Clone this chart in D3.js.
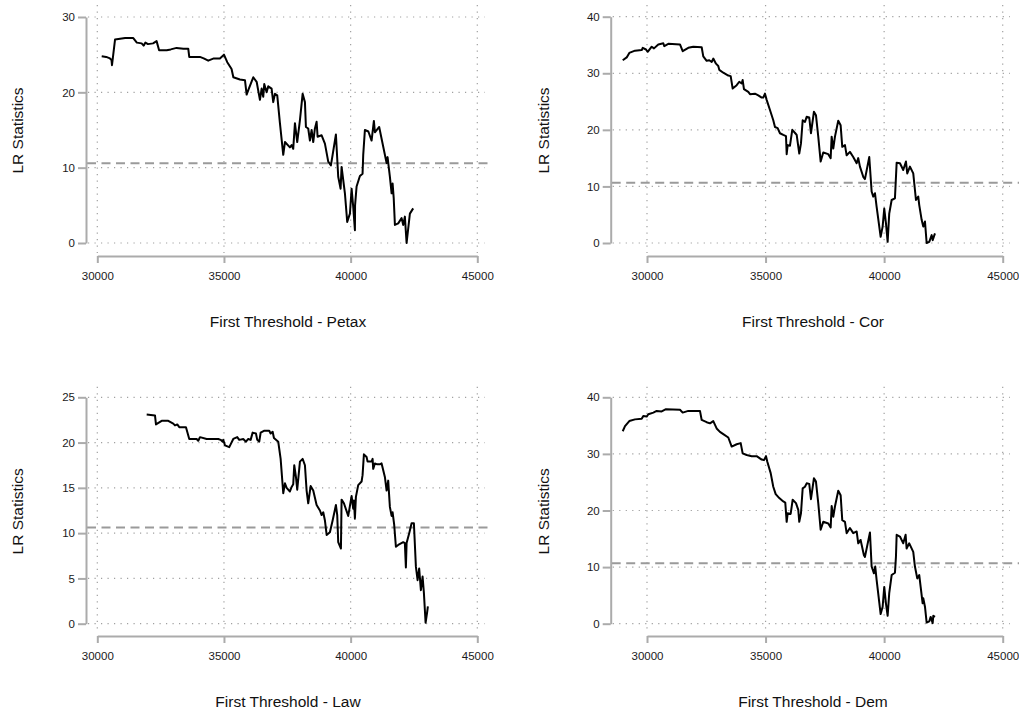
<!DOCTYPE html>
<html>
<head>
<meta charset="utf-8">
<script src="https://cdn.jsdelivr.net/npm/d3@7"></script>
<style>
  html, body { margin: 0; padding: 0; background: #fff; }
  svg { display: block; font-family: "Liberation Sans", Arial, Helvetica, sans-serif; }
</style>
</head>
<body>
<svg id="chart" width="1019" height="710"></svg>
<script>
// ---------------- DATA ----------------
const xTicks = [30000, 35000, 40000, 45000];
const yTicksPetax = [0, 10, 20, 30];
const yTicksCor = [0, 10, 20, 30, 40];
const yTicksLaw = [0, 5, 10, 15, 20, 25];
const yTicksDem = [0, 10, 20, 30, 40];
const panelTitles = ["First Threshold - Petax", "First Threshold - Cor", "First Threshold - Law", "First Threshold - Dem"];
const yTitle = "LR Statistics";
const criticalValues = [10.6, 10.65, 10.63, 10.7];

const petax = [[30174,24.8],[30350,24.7],[30500,24.5],[30560,24.3],[30580,23.6],[30700,27.0],[30900,27.1],[31100,27.2],[31420,27.2],[31560,26.6],[31750,26.5],[31830,26.2],[31900,26.6],[32000,26.4],[32200,26.5],[32340,26.8],[32440,25.6],[32740,25.6],[32900,25.7],[33130,25.9],[33400,25.8],[33590,25.8],[33630,24.7],[34050,24.7],[34200,24.5],[34380,24.2],[34600,24.5],[34840,24.5],[35000,25.0],[35130,24.0],[35300,23.1],[35370,22.0],[35630,21.7],[35830,21.6],[35895,19.7],[35960,20.3],[36156,22.0],[36290,21.4],[36420,19.0],[36487,20.5],[36550,19.4],[36590,21.1],[36684,20.0],[36748,20.8],[36880,20.5],[36945,18.7],[37012,19.8],[37103,19.6],[37209,15.9],[37340,11.7],[37407,13.4],[37604,12.7],[37671,13.0],[37734,12.5],[37801,15.9],[37892,13.4],[37999,16.3],[38105,19.8],[38196,18.7],[38235,15.4],[38326,15.2],[38393,13.6],[38460,15.0],[38524,13.4],[38590,15.2],[38657,16.1],[38696,14.1],[38855,14.3],[38985,13.2],[39116,10.8],[39222,10.3],[39419,14.4],[39510,8.8],[39604,7.2],[39643,10.1],[39774,6.6],[39865,2.8],[39972,3.9],[40039,7.2],[40102,4.8],[40169,1.7],[40175,5.0],[40235,7.5],[40366,8.9],[40471,9.2],[40497,11.7],[40563,15.0],[40700,14.8],[40827,13.6],[40918,16.2],[40958,14.7],[41127,15.4],[41285,12.8],[41420,10.6],[41458,11.4],[41549,8.8],[41617,6.6],[41657,7.9],[41700,6.0],[41748,2.4],[41878,2.6],[42012,3.3],[42076,2.4],[42141,3.5],[42209,0.0],[42339,3.9],[42469,4.6]];

const cor = [[28976,32.3],[29144,32.8],[29254,33.6],[29494,34.0],[29777,34.1],[29819,34.5],[29958,34.2],[30030,33.8],[30198,34.7],[30295,34.4],[30476,35.1],[30687,35.3],[30729,34.8],[30898,35.2],[31391,35.1],[31505,33.9],[31741,34.5],[31952,34.7],[32306,34.6],[32373,33.0],[32516,32.2],[32627,32.3],[32728,32.0],[32795,32.6],[32909,31.7],[33006,31.3],[33048,30.6],[33217,30.1],[33428,29.6],[33529,29.5],[33613,27.3],[33782,27.9],[33891,28.5],[33992,28.2],[34034,28.8],[34089,27.2],[34271,26.7],[34343,26.3],[34553,26.4],[34693,26.1],[34836,25.7],[34903,25.7],[34975,26.4],[35046,25.3],[35186,23.5],[35325,21.7],[35397,20.5],[35510,20.3],[35607,19.4],[35747,19.1],[35861,18.9],[35890,15.7],[35932,17.3],[36029,17.2],[36126,20.0],[36253,19.4],[36312,19.1],[36421,15.8],[36493,17.6],[36565,21.7],[36662,21.4],[36733,22.3],[36842,22.2],[36914,19.4],[37040,23.2],[37125,22.6],[37222,18.8],[37323,14.4],[37433,16.0],[37644,15.7],[37745,15.0],[37787,18.8],[37855,16.7],[37926,18.8],[38065,21.6],[38166,20.8],[38234,17.0],[38348,17.3],[38419,15.5],[38558,16.1],[38697,15.2],[38841,14.1],[38908,15.0],[38980,13.5],[39119,11.7],[39191,11.3],[39373,15.2],[39473,9.1],[39541,8.2],[39613,8.8],[39684,6.4],[39853,1.1],[39937,2.9],[40005,6.1],[40076,3.5],[40148,0.2],[40215,5.2],[40317,7.6],[40456,7.9],[40528,14.2],[40667,14.1],[40806,12.9],[40920,14.4],[40975,12.3],[41089,13.5],[41228,12.3],[41342,7.6],[41439,8.2],[41481,6.7],[41582,4.1],[41650,2.9],[41722,3.8],[41793,0.0],[41903,0.2],[42005,1.4],[42047,0.5],[42144,1.7]];

const law = [[31949,23.1],[32277,23.0],[32316,22.0],[32541,22.4],[32802,22.4],[32999,22.1],[33066,21.9],[33157,22.0],[33236,21.7],[33500,21.7],[33630,20.4],[33922,20.4],[33986,20.2],[34053,20.6],[34317,20.4],[34775,20.4],[34869,20.3],[34948,20.1],[34972,20.3],[35039,19.7],[35209,19.5],[35367,20.4],[35524,20.6],[35603,20.3],[35761,20.4],[35868,20.1],[35959,20.4],[36053,20.3],[36132,21.1],[36262,21.0],[36314,20.3],[36393,20.1],[36448,21.1],[36578,21.3],[36787,21.3],[36842,21.0],[36921,21.2],[36973,20.5],[37142,20.1],[37237,18.2],[37340,14.4],[37407,15.5],[37474,15.0],[37604,14.6],[37671,15.1],[37734,15.4],[37774,17.5],[37841,16.2],[37892,14.8],[37999,17.9],[38105,18.2],[38196,17.5],[38262,14.7],[38326,13.3],[38421,15.2],[38524,14.7],[38657,13.1],[38788,12.5],[38855,12.0],[38919,12.3],[38985,11.4],[39053,9.8],[39182,10.1],[39289,11.4],[39419,13.1],[39471,12.0],[39510,9.0],[39617,8.3],[39643,13.7],[39735,13.3],[39905,11.9],[40039,14.1],[40102,12.7],[40129,13.6],[40169,11.6],[40208,14.0],[40299,15.3],[40433,15.7],[40471,16.4],[40524,18.7],[40630,18.4],[40669,17.9],[40827,17.9],[40867,18.2],[40891,17.1],[40958,17.7],[41049,17.6],[41155,17.6],[41222,17.7],[41352,16.2],[41420,14.7],[41483,15.8],[41549,12.9],[41617,11.9],[41657,12.3],[41720,10.9],[41787,8.5],[41878,8.7],[42076,9.0],[42141,8.9],[42181,6.2],[42209,8.9],[42312,10.0],[42406,11.1],[42497,11.1],[42576,6.3],[42643,4.8],[42706,6.1],[42773,3.7],[42840,5.2],[42892,3.4],[42959,0.1],[43022,1.3],[43049,1.9]];

const dem = [[28976,34.0],[29073,34.9],[29254,35.8],[29494,36.1],[29777,36.2],[29844,36.7],[29986,36.6],[30056,37.0],[30267,37.3],[30408,37.6],[30619,37.5],[30800,37.9],[31391,37.8],[31505,37.3],[31741,37.6],[32234,37.6],[32306,36.0],[32516,35.6],[32656,35.4],[32795,35.8],[32937,34.5],[33076,33.9],[33217,33.5],[33428,32.9],[33571,31.3],[33782,31.7],[33951,31.9],[34034,30.1],[34203,29.8],[34414,29.6],[34625,29.6],[34836,29.0],[34933,28.9],[35018,29.6],[35074,28.6],[35216,26.6],[35325,24.2],[35427,22.9],[35578,22.2],[35747,21.6],[35831,21.4],[35890,18.0],[35932,19.5],[36058,19.4],[36143,21.9],[36282,21.3],[36379,20.1],[36421,18.0],[36493,19.5],[36565,23.9],[36662,24.2],[36733,24.8],[36842,24.7],[36914,22.0],[37040,25.7],[37125,25.1],[37222,21.3],[37323,16.6],[37433,18.0],[37644,17.7],[37745,17.0],[37787,20.8],[37855,18.9],[37926,20.7],[38065,23.5],[38166,22.7],[38234,18.3],[38348,18.0],[38419,16.0],[38558,16.9],[38697,16.0],[38841,16.3],[38908,14.2],[39008,14.8],[39148,12.1],[39191,11.8],[39402,16.1],[39473,10.1],[39570,8.9],[39625,10.1],[39684,7.7],[39853,1.7],[39937,3.0],[40005,6.5],[40076,3.6],[40148,1.4],[40215,5.4],[40317,8.6],[40456,9.0],[40498,11.8],[40528,15.7],[40667,15.4],[40806,14.2],[40906,15.7],[40948,13.3],[41059,14.2],[41228,12.7],[41299,10.1],[41397,8.0],[41481,8.6],[41540,6.5],[41624,3.6],[41650,4.5],[41722,3.0],[41793,0.2],[41903,0.4],[41962,1.2],[42047,0.1],[42073,1.4],[42144,1.2]];

// ---------------- LAYOUT ----------------
const panels = [
  { data: petax, yTicks: yTicksPetax, title: panelTitles[0], crit: criticalValues[0],
    axisX: 86, xr: [97.3, 477.3], yr: [243, 17], axisY: 256, gridTop: 5, gridBot: 253, gridRight: 485, dashRight: 490, titleX: 288, titleY: 327, yTitleX: 18 },
  { data: cor, yTicks: yTicksCor, title: panelTitles[1], crit: criticalValues[1],
    axisX: 610.7, xr: [647, 1002.7], yr: [243, 16.7], axisY: 256, gridTop: 5, gridBot: 253, gridRight: 1010, dashRight: 1019, titleX: 813, titleY: 327, yTitleX: 544 },
  { data: law, yTicks: yTicksLaw, title: panelTitles[2], crit: criticalValues[2],
    axisX: 86, xr: [97.3, 477.3], yr: [623.7, 397.3], axisY: 636, gridTop: 386.7, gridBot: 633, gridRight: 485, dashRight: 490, titleX: 288, titleY: 707, yTitleX: 18 },
  { data: dem, yTicks: yTicksDem, title: panelTitles[3], crit: criticalValues[3],
    axisX: 610.7, xr: [647, 1002.7], yr: [623.7, 397.3], axisY: 636, gridTop: 386.7, gridBot: 633, gridRight: 1010, dashRight: 1019, titleX: 813, titleY: 707, yTitleX: 544 }
];

const svg = d3.select("#chart");
const axisColor = "#ababab";
const gridColor = "#a0a0a0";

panels.forEach(p => {
  const yMax = p.yTicks[p.yTicks.length - 1];
  const x = d3.scaleLinear().domain([xTicks[0], xTicks[xTicks.length - 1]]).range(p.xr);
  const y = d3.scaleLinear().domain([0, yMax]).range(p.yr);
  const g = svg.append("g");

  // horizontal dotted grid
  g.append("g").selectAll("line").data(p.yTicks).join("line")
    .attr("x1", p.axisX + 2).attr("x2", p.gridRight)
    .attr("y1", d => y(d)).attr("y2", d => y(d))
    .attr("stroke", gridColor).attr("stroke-width", 1.2)
    .attr("stroke-dasharray", "1.2,5.3");

  // vertical dotted grid
  g.append("g").selectAll("line").data(xTicks).join("line")
    .attr("x1", d => x(d)).attr("x2", d => x(d))
    .attr("y1", p.gridTop).attr("y2", p.gridBot)
    .attr("stroke", gridColor).attr("stroke-width", 1.2)
    .attr("stroke-dasharray", "1.2,5.3");

  // critical value dashed line
  g.append("line")
    .attr("x1", p.axisX + 1).attr("x2", p.dashRight)
    .attr("y1", y(p.crit)).attr("y2", y(p.crit))
    .attr("stroke", "#9a9a9a").attr("stroke-width", 2)
    .attr("stroke-dasharray", "9,5.5");

  // y axis
  const ya = g.append("g").attr("transform", `translate(${p.axisX},0)`)
    .call(d3.axisLeft(y).tickValues(p.yTicks).tickSize(8).tickSizeOuter(0).tickPadding(3).tickFormat(d3.format("d")));
  // x axis
  const xa = g.append("g").attr("transform", `translate(0,${p.axisY})`)
    .call(d3.axisBottom(x).tickValues(xTicks).tickSize(7).tickSizeOuter(0).tickPadding(9).tickFormat(d3.format("d")));
  [ya, xa].forEach(a => {
    a.select(".domain").attr("stroke", axisColor).attr("stroke-width", 2);
    a.selectAll(".tick line").attr("stroke", axisColor).attr("stroke-width", 2);
    a.selectAll(".tick text").attr("fill", "#1a1a1a").style("font-size", "11.5px")
      .style("font-family", "'Liberation Sans', Arial, sans-serif");
  });

  // data line
  g.append("path").datum(p.data)
    .attr("fill", "none").attr("stroke", "#000").attr("stroke-width", 2)
    .attr("stroke-linejoin", "round")
    .attr("d", d3.line().x(d => x(d[0])).y(d => y(d[1])));

  // titles
  g.append("text").attr("x", p.titleX).attr("y", p.titleY)
    .attr("text-anchor", "middle").attr("fill", "#111").style("font-size", "15.5px")
    .text(p.title);
  const yc = (p.gridTop + p.axisY) / 2;
  g.append("text").attr("transform", `translate(${p.yTitleX},${yc}) rotate(-90)`)
    .attr("text-anchor", "middle").attr("dy", "0.35em").attr("fill", "#111").style("font-size", "15.5px")
    .text(yTitle);
});
</script>
</body>
</html>
